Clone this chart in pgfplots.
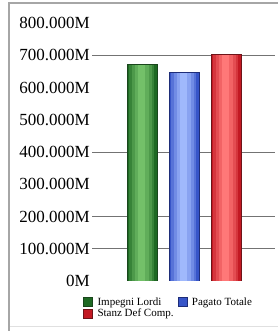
\documentclass[border=0pt]{standalone}
\usepackage{fontspec}
\setmainfont{Liberation Serif}
\usepackage{pgfplots}
\pgfplotsset{compat=1.18}
\definecolor{gE}{RGB}{30,105,35}
\definecolor{gM}{RGB}{115,192,105}
\definecolor{gD}{RGB}{25,70,28}
\definecolor{bE}{RGB}{55,85,200}
\definecolor{bM}{RGB}{160,185,252}
\definecolor{bD}{RGB}{30,45,120}
\definecolor{rE}{RGB}{195,25,35}
\definecolor{rM}{RGB}{255,120,120}
\definecolor{rD}{RGB}{110,20,25}
\pgfplotsset{
  lay/.style n args={4}{ybar, bar width=#1, bar shift=0pt, draw=none, fill={#3!#4!#2}, forget plot},
  outl/.style={ybar, bar width=30bp, bar shift=0pt, fill=none, draw=#1, line width=0.6bp, forget plot},
}
\begin{document}
\begin{tikzpicture}
\path[use as bounding box] (0,0) rectangle (278bp,331bp);
\draw[black!12, line width=1bp] (9bp,4bp) -- (278bp,4bp);
\draw[black!35, line width=2.5bp] (9bp,0) -- (9bp,328bp) -- (278bp,328bp);
\begin{axis}[
  at={(92bp,50bp)}, anchor=south west,
  scale only axis, width=183bp, height=258bp,
  xmin=-1.19, xmax=3.17, ymin=0, ymax=800,
  axis line style={draw=none},
  xtick=\empty,
  ytick={0,100,200,300,400,500,600,700,800},
  yticklabels={0M,100.000M,200.000M,300.000M,400.000M,500.000M,600.000M,700.000M,800.000M},
  ytick style={draw=none},
  yticklabel style={font=\fontsize{17bp}{20bp}\selectfont, inner sep=0pt, xshift=-2bp},
  extra y ticks={100,200,400,700},
  extra y tick labels={},
  extra y tick style={grid=major, major grid style={black!55, line width=0.6bp}, tick style={draw=none}},
  legend columns=2,
  legend cell align=left,
  legend style={draw=none, fill=none, at={(-0.049,-0.062)}, anchor=north west,
    font=\fontsize{11bp}{12.5bp}\selectfont, inner sep=0pt, row sep=1bp,
    nodes={inner xsep=0pt, inner ysep=0.5bp},
    /tikz/column 2/.style={column sep=4bp}},
  legend image code/.code={\draw[#1] (0bp,-4.5bp) rectangle (9bp,4.5bp); \path[draw=none,fill=none] (0bp,0bp) -- (14bp,0bp);},
]
% green
\addplot[ybar, bar width=30bp, bar shift=0pt, fill=gE, draw=gD, line width=0.6bp] coordinates {(0,671)};
\addlegendentry{Impegni Lordi}
\addplot[lay={25bp}{gE}{gM}{30}] coordinates {(0,671)};
\addplot[lay={20bp}{gE}{gM}{55}] coordinates {(0,671)};
\addplot[lay={14bp}{gE}{gM}{78}] coordinates {(0,671)};
\addplot[lay={7bp}{gE}{gM}{100}] coordinates {(0,671)};
\addplot[outl=gD] coordinates {(0,671)};
% blue
\addplot[ybar, bar width=30bp, bar shift=0pt, fill=bE, draw=bD, line width=0.6bp] coordinates {(1,647)};
\addlegendentry{Pagato Totale}
\addplot[lay={25bp}{bE}{bM}{30}] coordinates {(1,647)};
\addplot[lay={20bp}{bE}{bM}{55}] coordinates {(1,647)};
\addplot[lay={14bp}{bE}{bM}{78}] coordinates {(1,647)};
\addplot[lay={7bp}{bE}{bM}{100}] coordinates {(1,647)};
\addplot[outl=bD] coordinates {(1,647)};
% red
\addplot[ybar, bar width=30bp, bar shift=0pt, fill=rE, draw=rD, line width=0.6bp] coordinates {(2,703)};
\addlegendentry{Stanz Def Comp.}
\addplot[lay={25bp}{rE}{rM}{30}] coordinates {(2,703)};
\addplot[lay={20bp}{rE}{rM}{55}] coordinates {(2,703)};
\addplot[lay={14bp}{rE}{rM}{78}] coordinates {(2,703)};
\addplot[lay={7bp}{rE}{rM}{100}] coordinates {(2,703)};
\addplot[outl=rD] coordinates {(2,703)};
\end{axis}
\end{tikzpicture}
\end{document}
